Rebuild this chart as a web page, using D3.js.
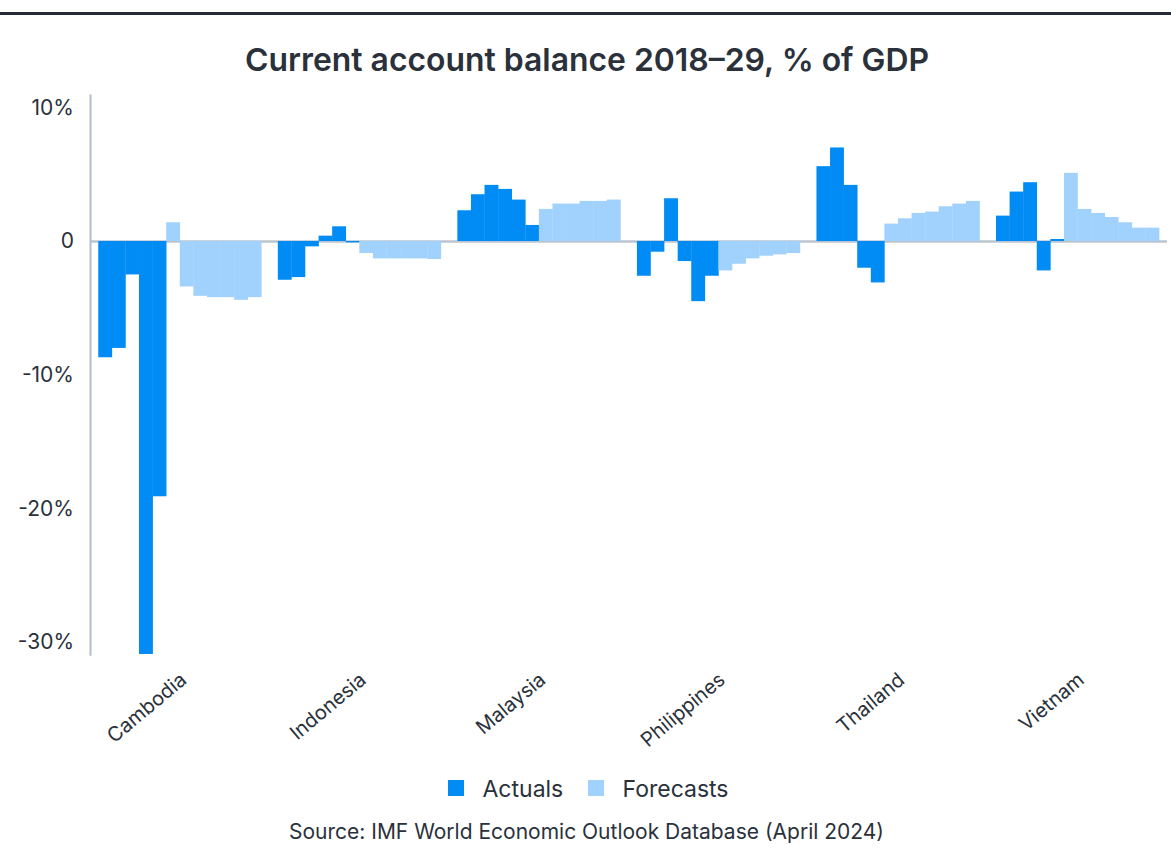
<!DOCTYPE html>
<html>
<head>
<meta charset="utf-8">
<script src="https://cdn.jsdelivr.net/npm/d3@7"></script>
<style>
  html, body { margin: 0; padding: 0; background: #fff; }
  svg { display: block; font-family: Inter, "Noto Sans", sans-serif; }
</style>
</head>
<body>
<svg id="chart" width="1171" height="864"></svg>
<script>
const countries = ["Cambodia", "Indonesia", "Malaysia", "Philippines", "Thailand", "Vietnam"];
const years = ["2018","2019","2020","2021","2022","2023","2024","2025","2026","2027","2028","2029"];
const cambodia    = [-8.7, -8.0, -2.5, -30.9, -19.1, 1.4, -3.4, -4.1, -4.2, -4.2, -4.4, -4.2];
const indonesia   = [-2.9, -2.7, -0.4, 0.4, 1.1, -0.1, -0.9, -1.3, -1.3, -1.3, -1.3, -1.35];
const malaysia    = [2.3, 3.5, 4.2, 3.9, 3.1, 1.2, 2.4, 2.8, 2.8, 3.0, 3.0, 3.1];
const philippines = [-2.6, -0.8, 3.2, -1.5, -4.5, -2.6, -2.2, -1.7, -1.3, -1.1, -1.0, -0.9];
const thailand    = [5.6, 7.0, 4.2, -2.0, -3.1, 1.3, 1.7, 2.1, 2.2, 2.6, 2.8, 3.0];
const vietnam     = [1.9, 3.7, 4.4, -2.2, 0.15, 5.1, 2.4, 2.1, 1.8, 1.4, 1.0, 1.0];
const forecastFrom = [2023, 2024, 2024, 2024, 2023, 2023];
const yTicks = [10, 0, -10, -20, -30];
const seriesNames = ["Actuals", "Forecasts"];

const seriesValues = [cambodia, indonesia, malaysia, philippines, thailand, vietnam];

const W = 1171, H = 864;
const colActual = "#018bf5", colForecast = "#a1d1fd";
const textCol = "#2a313b";

const svg = d3.select("#chart");

// top rule
svg.append("line").attr("x1", 0).attr("x2", W).attr("y1", 13.5).attr("y2", 13.5)
  .attr("stroke", "#262c36").attr("stroke-width", 3);

// title
svg.append("text").attr("x", 587).attr("y", 71).attr("text-anchor", "middle")
  .attr("font-size", 31.9).attr("font-weight", 600).attr("fill", textCol)
  .text("Current account balance 2018\u201329, % of GDP");

const x0 = d3.scaleBand().domain(countries).range([90, 1167.3]).paddingInner(0.092).paddingOuter(0.046);
const x1 = d3.scaleBand().domain(years).range([0, x0.bandwidth()]).padding(0);
const y = d3.scaleLinear().domain([-31, 11]).range([655.3, 94]);

// zero line
svg.append("line").attr("x1", 90).attr("x2", 1167).attr("y1", y(0) + 0.5).attr("y2", y(0) + 0.5)
  .attr("stroke", "#bcc4cf").attr("stroke-width", 2.5);

// bars
const data = [];
countries.forEach((c, i) => {
  seriesValues[i].forEach((v, j) => {
    data.push({ c, year: years[j], v, fc: +years[j] >= forecastFrom[i] });
  });
});

svg.append("g").selectAll("rect").data(data).join("rect")
  .attr("x", d => x0(d.c) + x1(d.year))
  .attr("width", x1.bandwidth() + 0.3)
  .attr("y", d => y(Math.max(0, d.v)))
  .attr("height", d => Math.abs(y(d.v) - y(0)))
  .attr("fill", d => d.fc ? colForecast : colActual);

// y axis
const yAxis = d3.axisLeft(y).tickValues(yTicks).tickSize(0).tickPadding(16)
  .tickFormat(d => d === 0 ? "0" : d + "%");
const gy = svg.append("g").attr("transform", "translate(90,0)").call(yAxis);
gy.select(".domain").attr("stroke", "#b1bdcc").attr("stroke-width", 2);
gy.selectAll("text").attr("font-size", 21).attr("fill", textCol).attr("font-family", "Inter, sans-serif");

// x labels
svg.append("g").selectAll("text").data(countries).join("text")
  .attr("transform", d => `translate(${x0(d) + x0.bandwidth() / 2 + 8},${682}) rotate(-40)`)
  .attr("text-anchor", "end")
  .attr("font-size", 20).attr("fill", textCol)
  .text(d => d);

// legend
const legendX = [448, 588];
const lg = svg.append("g");
seriesNames.forEach((s, i) => {
  lg.append("rect").attr("x", legendX[i]).attr("y", 780).attr("width", 16).attr("height", 16)
    .attr("fill", i === 0 ? colActual : colForecast);
  lg.append("text").attr("x", legendX[i] + 34.5).attr("y", 797)
    .attr("font-size", 23).attr("fill", textCol).text(s);
});

// source
svg.append("text").attr("x", 586.5).attr("y", 839).attr("text-anchor", "middle")
  .attr("font-size", 21).attr("fill", textCol)
  .text("Source: IMF World Economic Outlook Database (April 2024)");
</script>
</body>
</html>
